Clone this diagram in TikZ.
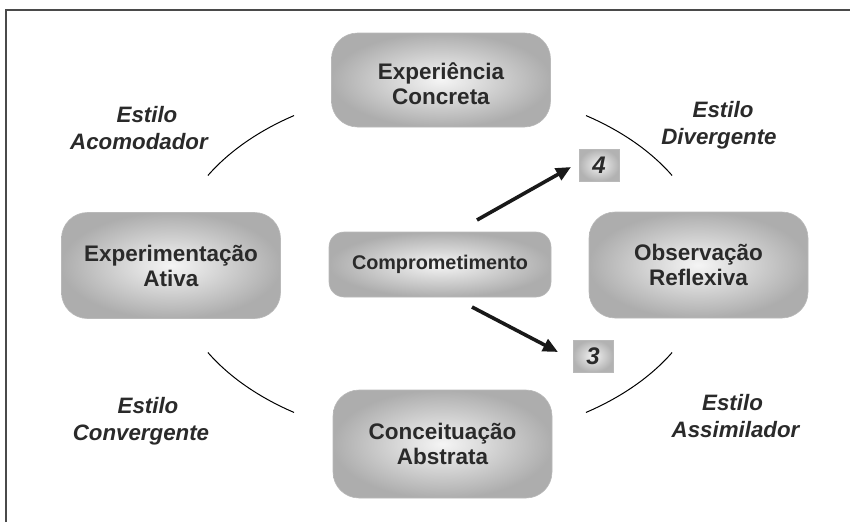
\documentclass[tikz,border=0pt]{standalone}
\usepackage{fontspec}
\setmainfont{Liberation Sans}
\usetikzlibrary{arrows.meta}
\definecolor{txt}{HTML}{2A2A2A}
\definecolor{frame}{HTML}{4A4A4A}
\tikzset{
  cell/.style={rounded corners=26pt, draw=gray!55, line width=0.6pt,
    inner color=gray!8, outer color=gray!64, align=center, text=txt,
    font=\fontsize{22.5}{25}\selectfont\bfseries,
    minimum width=219pt, minimum height=106pt, inner sep=0pt},
  midcell/.style={cell, rounded corners=15pt, minimum width=222pt, minimum height=65pt,
    font=\fontsize{19.8}{22}\selectfont\bfseries},
  numbox/.style={draw=gray!55, line width=0.6pt, inner color=gray!10, outer color=gray!60,
    minimum width=40pt, minimum height=32pt, inner sep=0pt, text=txt,
    font=\fontsize{24}{24}\selectfont\bfseries\itshape},
  stylelabel/.style={align=center, text=txt, inner sep=0pt, font=\fontsize{22.3}{27}\selectfont\bfseries\itshape},
  arcline/.style={line width=1pt, black},
  bigarrow/.style={line width=3.6pt, black!90, -{Triangle[length=15pt,width=13pt]}}
}
\begin{document}
\begin{tikzpicture}[x=1pt,y=-1pt]
\useasboundingbox (0,0) rectangle (850,522);
% frame
\draw[frame, line width=1.3pt] (6,522) -- (6,10) -- (850,10);
% boxes
\node[cell, minimum height=94pt] (ec) at (441,80) {\rule{0pt}{25pt}Experiência\\Concreta};
\node[cell] (ea) at (171,265.5) {Experimentação\\Ativa};
\node[cell] (or) at (698.5,265) {Observação\\Reflexiva};
\node[cell, minimum height=108pt] (ca) at (442.5,444) {Conceituação\\Abstrata};
\node[midcell] (cp) at (440,264.5) {Comprometimento};
\node[numbox] (n4) at (599,165) {4};
\node[numbox] (n3) at (593,356) {3};
% arcs
\coordinate (ctr) at (440,264);
\draw[arcline] (ctr) ++(210:268 and 177) arc[start angle=210, end angle=237, x radius=268, y radius=177];
\draw[arcline] (ctr) ++(303:268 and 177) arc[start angle=303, end angle=330, x radius=268, y radius=177];
\draw[arcline] (ctr) ++(123:268 and 177) arc[start angle=123, end angle=150, x radius=268, y radius=177];
\draw[arcline] (ctr) ++(30:268 and 177) arc[start angle=30, end angle=57, x radius=268, y radius=177];
% arrows
\coordinate (a4s) at (477,220);
\coordinate (a4e) at (571,167);
\coordinate (a3s) at (472,307);
\coordinate (a3e) at (558,352);
\draw[bigarrow] (a4s) -- (a4e);
\draw[bigarrow] (a3s) -- (a3e);
% labels
\node[stylelabel] (lac) at (139,128) {\hspace*{16pt}Estilo\\Acomodador};
\node[stylelabel] (ldv) at (719,125) {\hspace*{8pt}Estilo\\Divergente};
\node[stylelabel] (lcv) at (141,421) {\hspace*{14pt}Estilo\\Convergente};
\node[stylelabel] (las) at (735.5,416) {Estilo\hspace*{6pt}\\Assimilador};
\end{tikzpicture}
\end{document}
